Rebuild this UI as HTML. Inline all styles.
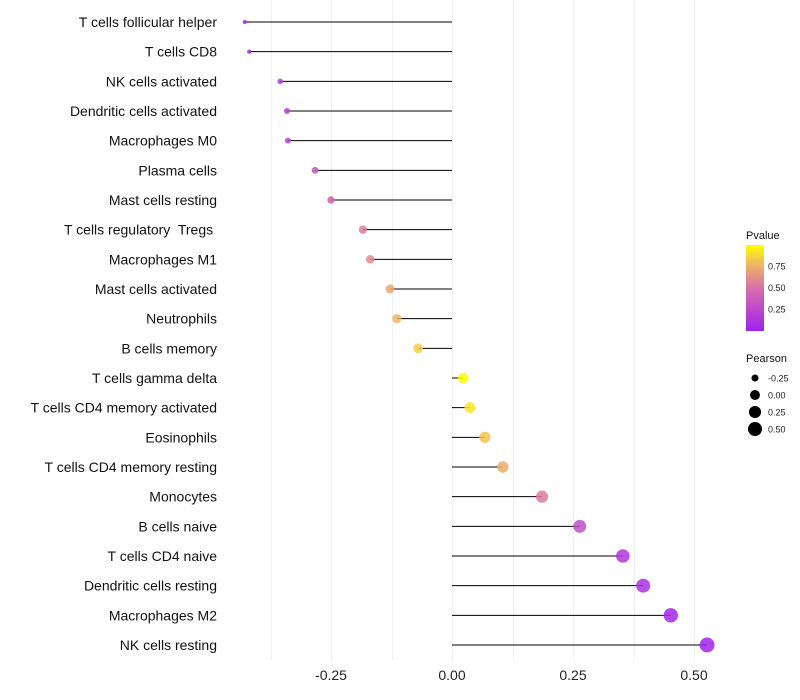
<!DOCTYPE html>
<html><head><meta charset="utf-8"><style>
body{margin:0;background:#fff;}
svg{display:block;font-family:"Liberation Sans",sans-serif;}
text{white-space:pre;}
</style></head><body>
<svg id="chart" width="800" height="700"></svg>
<script>
const categories=["T cells follicular helper","T cells CD8","NK cells activated","Dendritic cells activated","Macrophages M0","Plasma cells","Mast cells resting","T cells regulatory  Tregs ","Macrophages M1","Mast cells activated","Neutrophils","B cells memory","T cells gamma delta","T cells CD4 memory activated","Eosinophils","T cells CD4 memory resting","Monocytes","B cells naive","T cells CD4 naive","Dendritic cells resting","Macrophages M2","NK cells resting"];
const pearson=[-0.428,-0.419,-0.355,-0.341,-0.339,-0.283,-0.25,-0.184,-0.169,-0.128,-0.114,-0.070,0.023,0.037,0.068,0.105,0.186,0.264,0.353,0.395,0.452,0.527];
const pvalue=[0.03,0.06,0.2,0.2,0.22,0.35,0.42,0.55,0.6,0.72,0.76,0.85,0.99,0.92,0.82,0.74,0.55,0.3,0.15,0.1,0.05,0.02];
const xTicks=[-0.25,0,0.25,0.5];
const xTickLabels=["-0.25","0.00","0.25","0.50"];
const pLegendTicks=[0.25,0.5,0.75];
const sizeLegend=[-0.25,0,0.25,0.5];
const sizeLegendLabels=["-0.25","0.00","0.25","0.50"];

const NS="http://www.w3.org/2000/svg";
const svg=document.getElementById('chart');
function el(t,a,p){const e=document.createElementNS(NS,t);for(const k in a)e.setAttribute(k,a[k]);(p||svg).appendChild(e);return e;}
const x=v=>452+v*484;
const y=i=>22+i*(623/21);
const rad=v=>Math.sqrt(Math.max(2,4+54*(v+0.43)));
function lerp(a,b,t){return a.map((c,i)=>Math.round(c+(b[i]-c)*t));}
function col(p){const s=[[160,32,240],[214,112,170],[240,190,90],[255,255,0]];let c;if(p<0.5)c=lerp(s[0],s[1],p/0.5);else if(p<0.8)c=lerp(s[1],s[2],(p-0.5)/0.3);else c=lerp(s[2],s[3],(p-0.8)/0.2);return `rgb(${c.join(',')})`;}

// grid
[-0.375,-0.25,-0.125,0,0.125,0.25,0.375,0.5].forEach(v=>{
  const g=el('line',{x1:Math.round(x(v))+0.5,x2:Math.round(x(v))+0.5,y1:0,y2:660,stroke:'#efefef','stroke-width':1});
  
  
});
xTicks.forEach((v,i)=>{
  const t=el('text',{x:x(v),y:680,'text-anchor':'middle','font-size':14,fill:'#222'});
  t.textContent=xTickLabels[i];
  
  
});
categories.forEach((c,i)=>{
  const t=el('text',{x:217,y:y(i)+5,'text-anchor':'end','font-size':14,fill:'#111'});
  t.textContent=c;
  
  
  const l=el('line',{x1:x(0),x2:x(pearson[i]),y1:y(i),y2:y(i),stroke:'#000','stroke-width':1});
  
  
  const p=el('circle',{cx:x(pearson[i]),cy:y(i),r:rad(pearson[i]),fill:col(pvalue[i]),'fill-opacity':0.85});
  
  
});
// color legend
const lt=el('text',{x:746,y:239,'font-size':11,fill:'#111'});lt.textContent='Pvalue';


const defs=el('defs',{});
const gr=el('linearGradient',{id:'pg',x1:0,y1:1,x2:0,y2:0},defs);
[0,0.25,0.5,0.65,0.8,0.9,1].forEach(o=>el('stop',{offset:o,'stop-color':col(o)},gr));
const cb=el('rect',{x:746,y:245,width:18,height:86,fill:'url(#pg)'});


const py=p=>330-(p-0.01)/(0.99-0.01)*85;
pLegendTicks.forEach(p=>{
  const t=el('text',{x:768,y:py(p)+3.5,'font-size':9,fill:'#222'});t.textContent=p.toFixed(2);
  
  
});
const st=el('text',{x:746,y:362,'font-size':11,fill:'#111'});st.textContent='Pearson';


sizeLegend.forEach((v,i)=>{
  const cy=378+i*17;
  const c=el('circle',{cx:755,cy:cy,r:rad(v)*0.95,fill:'#000'});
  
  
  const t=el('text',{x:768,y:cy+3.5,'font-size':9,fill:'#222'});t.textContent=sizeLegendLabels[i];
  
  
});
</script>
</body></html>
